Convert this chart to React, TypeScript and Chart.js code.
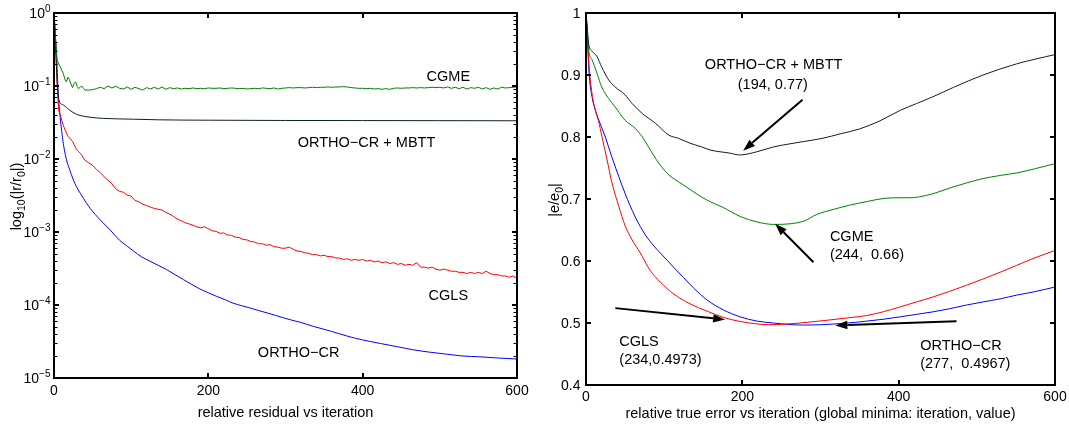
import React, { useEffect, useRef } from 'react';
import { Chart, registerables } from 'chart.js';

Chart.register(...registerables);

const FAMILY = '"Liberation Sans", Arial, Helvetica, sans-serif';
const fnt = (px: number) => `${px}px ${FAMILY}`;
const TICK_PX = 14;
const TEXT_PX = 14.5;
const SUB_PX = 10.5;

// ================= Left panel: relative residual (log scale) =================
const noisyIter = [
  0, 2, 4, 6, 8, 10, 12, 14, 16, 18, 20, 22, 24, 26, 28, 30, 32, 34, 36, 38,
  40, 45, 50, 55, 60, 65, 70, 75, 80, 85,
  90, 95, 100, 105, 110, 115, 120, 125, 130, 135,
  140, 145, 150, 155, 160, 165, 170, 175, 180, 185,
  190, 195, 200, 205, 210, 215, 220, 225, 230, 235,
  240, 245, 250, 255, 260, 265, 270, 275, 280, 285,
  290, 295, 300, 305, 310, 315, 320, 325, 330, 335,
  340, 345, 350, 355, 360, 365, 370, 375, 380, 385,
  390, 395, 400, 405, 410, 415, 420, 425, 430, 435,
  440, 445, 450, 455, 460, 465, 470, 475, 480, 485,
  490, 495, 500, 505, 510, 515, 520, 525, 530, 535,
  540, 545, 550, 555, 560, 565, 570, 575, 580, 585,
  590, 595, 600,
];

const cgmeResidual = [
  1.0, 0.45, 0.23, 0.2, 0.183, 0.165, 0.149, 0.125, 0.114, 0.132, 0.122, 0.107, 0.095, 0.108, 0.114, 0.099, 0.092, 0.097, 0.1, 0.093,
  0.088, 0.088, 0.089, 0.092, 0.096, 0.092, 0.1, 0.094, 0.099, 0.093,
  0.091, 0.097, 0.09, 0.096, 0.092, 0.088, 0.095, 0.091, 0.096, 0.091,
  0.097, 0.09, 0.095, 0.092, 0.094, 0.091, 0.093, 0.092, 0.094, 0.092,
  0.093, 0.092, 0.094, 0.093, 0.093, 0.094, 0.092, 0.093, 0.094, 0.093,
  0.092, 0.093, 0.091, 0.092, 0.093, 0.092, 0.094, 0.093, 0.092, 0.094,
  0.091, 0.093, 0.094, 0.095, 0.094, 0.095, 0.095, 0.094, 0.095, 0.096,
  0.095, 0.096, 0.096, 0.097, 0.096, 0.097, 0.097, 0.098, 0.097, 0.095,
  0.094, 0.093, 0.093, 0.092, 0.093, 0.091, 0.092, 0.09, 0.092, 0.09,
  0.093, 0.094, 0.093, 0.094, 0.094, 0.095, 0.094, 0.095, 0.094, 0.095,
  0.096, 0.095, 0.096, 0.094, 0.097, 0.093, 0.096, 0.092, 0.096, 0.091,
  0.095, 0.093, 0.096, 0.091, 0.095, 0.09, 0.094, 0.091, 0.096, 0.094,
  0.095, 0.096, 0.097,
];

const cglsResidual = [
  1.0, 0.4, 0.11, 0.047, 0.041, 0.034, 0.029, 0.0255, 0.0228, 0.0205, 0.0195, 0.0183, 0.0175, 0.0158, 0.0142, 0.0132, 0.0126, 0.012, 0.0113, 0.0104,
  0.0096, 0.0089, 0.0082, 0.0072, 0.0065, 0.0057, 0.0051, 0.0046, 0.0039, 0.0036,
  0.0035, 0.0032, 0.0031, 0.0027, 0.0026, 0.0024, 0.0023, 0.0022, 0.0021, 0.00205,
  0.002, 0.00185, 0.00176, 0.00163, 0.0015, 0.00143, 0.00134, 0.00129, 0.00124, 0.00118,
  0.00114, 0.00118, 0.00111, 0.00104, 0.00102, 0.00096, 0.00097, 0.00091, 0.0009, 0.00085,
  0.00084, 0.00079, 0.00078, 0.00074, 0.00073, 0.00069, 0.00069, 0.00066, 0.00067, 0.00063,
  0.00062, 0.0006, 0.0006, 0.00062, 0.00058, 0.00055, 0.00054, 0.00052, 0.00051, 0.00049,
  0.00049, 0.00047, 0.00048, 0.00046, 0.00046, 0.00044, 0.00044, 0.00042, 0.00043, 0.00041,
  0.00042, 0.00041, 0.00042, 0.0004, 0.00041, 0.00039, 0.0004, 0.00038, 0.00039, 0.00037,
  0.00038, 0.00036, 0.00037, 0.00035, 0.00036, 0.00035, 0.00038, 0.00033, 0.00033, 0.00032,
  0.00033, 0.00031, 0.0003, 0.00031, 0.0003, 0.00029, 0.00029, 0.00028, 0.00028, 0.00027,
  0.00028, 0.00027, 0.00028, 0.00027, 0.00029, 0.00027, 0.00026, 0.00026, 0.00025, 0.00025,
  0.00024, 0.00025, 0.00023,
];

const mbttResidualIter = [0, 2, 4, 6, 12, 20, 29, 36, 47, 64, 103, 137, 200, 300, 400, 500, 600];
const mbttResidual = [1.0, 0.35, 0.12, 0.066, 0.055, 0.047, 0.041, 0.039, 0.0373, 0.036, 0.0351, 0.0344, 0.034, 0.0337, 0.0336, 0.0335, 0.0334];

const orthoResidualIter = [
  0, 2, 3.5, 5.5, 8, 10, 12, 14, 16, 20,
  25, 29, 34, 38, 47, 60, 73, 79, 85, 94,
  103, 113, 124, 135, 146, 157, 168, 179, 189, 200,
  211, 222, 232, 243, 254, 265, 276, 287, 297, 308,
  319, 336, 358, 380, 401, 423, 445, 466, 488, 509,
  530, 552, 575, 600,
];
const orthoResidual = [
  1.0, 0.45, 0.23, 0.08, 0.037, 0.024, 0.0164, 0.0125, 0.0099, 0.0073,
  0.0052, 0.0042, 0.0034, 0.0029, 0.0021, 0.00146, 0.00106, 0.0009, 0.00077, 0.00065,
  0.00055, 0.00046, 0.0004, 0.00035, 0.000305, 0.00026, 0.000222, 0.00019, 0.000166, 0.000147,
  0.000131, 0.000118, 0.000106, 0.000098, 0.000091, 0.000084, 0.000078, 0.000072, 0.000067, 0.000062,
  0.000058, 0.000051, 0.000044, 0.0000375, 0.000033, 0.0000297, 0.0000268, 0.0000243, 0.0000225, 0.0000212,
  0.00002, 0.0000195, 0.0000188, 0.0000182,
];

const residualXTicks = [0, 200, 400, 600];
const residualXTickLabels = ['0', '200', '400', '600'];
const residualYTicks = [1e-5, 1e-4, 1e-3, 1e-2, 1e-1, 1];
const residualYExponents = ['\u22125', '\u22124', '\u22123', '\u22122', '\u22121', '0'];
const residualYMinor = [
  2e-5, 3e-5, 4e-5, 5e-5, 6e-5, 7e-5, 8e-5, 9e-5,
  2e-4, 3e-4, 4e-4, 5e-4, 6e-4, 7e-4, 8e-4, 9e-4,
  2e-3, 3e-3, 4e-3, 5e-3, 6e-3, 7e-3, 8e-3, 9e-3,
  2e-2, 3e-2, 4e-2, 5e-2, 6e-2, 7e-2, 8e-2, 9e-2,
  0.2, 0.3, 0.4, 0.5, 0.6, 0.7, 0.8, 0.9,
];

// ================= Right panel: relative true error =================
const mbttErrIter = [0, 2, 3.4, 8, 14, 20, 29, 37, 50, 59, 72, 89, 106, 118, 133, 148, 159, 184, 197, 218, 240, 261, 280, 303, 325, 350, 376, 402, 423, 444, 470, 508, 551, 600];
const mbttErr = [1.0, 0.97, 0.95, 0.938, 0.93, 0.913, 0.892, 0.881, 0.868, 0.854, 0.838, 0.822, 0.803, 0.798, 0.79, 0.784, 0.779, 0.774, 0.771, 0.776, 0.784, 0.789, 0.793, 0.798, 0.805, 0.813, 0.826, 0.843, 0.854, 0.865, 0.88, 0.9, 0.918, 0.933];

const cgmeErrIter = [0, 2, 3.4, 8, 14, 20, 29, 37, 50, 63, 72, 80, 93, 106, 123, 136, 148, 160, 176, 197, 219, 240, 261, 280, 295, 316, 337, 360, 381, 400, 415, 436, 450, 466, 487, 508, 530, 551, 575, 600];
const cgmeErr = [1.0, 0.965, 0.94, 0.924, 0.903, 0.881, 0.862, 0.849, 0.827, 0.814, 0.8, 0.784, 0.758, 0.739, 0.724, 0.713, 0.703, 0.695, 0.686, 0.672, 0.663, 0.659, 0.66, 0.665, 0.675, 0.683, 0.69, 0.696, 0.701, 0.702, 0.702, 0.706, 0.711, 0.718, 0.726, 0.733, 0.738, 0.742, 0.749, 0.757];

const cglsErrIter = [0, 2, 3.4, 7.7, 12, 16, 20.5, 27, 33, 42, 50, 59, 69, 82, 95, 112, 133, 155, 176, 197, 219, 234, 250, 270, 290, 316, 340, 359, 380, 402, 423, 444, 465, 487, 508, 530, 551, 572, 600];
const cglsErr = [1.0, 0.96, 0.924, 0.87, 0.843, 0.826, 0.8, 0.763, 0.727, 0.688, 0.657, 0.634, 0.614, 0.585, 0.566, 0.547, 0.531, 0.519, 0.509, 0.5025, 0.4985, 0.4973, 0.4978, 0.4995, 0.502, 0.5055, 0.509, 0.512, 0.518, 0.526, 0.534, 0.542, 0.551, 0.561, 0.571, 0.582, 0.593, 0.604, 0.617];

const orthoErrIter = [0, 2, 4.3, 7.7, 12, 18, 24.7, 33, 42, 50, 63, 76, 87, 95, 104, 112, 125, 138, 155, 176, 197, 219, 240, 261, 277, 300, 330, 359, 380, 402, 423, 444, 465, 487, 508, 530, 551, 572, 600];
const orthoErr = [1.0, 0.95, 0.897, 0.865, 0.843, 0.822, 0.8, 0.768, 0.736, 0.709, 0.671, 0.642, 0.624, 0.613, 0.601, 0.59, 0.573, 0.556, 0.537, 0.521, 0.51, 0.503, 0.5, 0.4975, 0.4967, 0.4972, 0.4995, 0.503, 0.506, 0.51, 0.514, 0.518, 0.523, 0.529, 0.534, 0.539, 0.545, 0.55, 0.558];

const errorXTicks = [0, 200, 400, 600];
const errorXTickLabels = ['0', '200', '400', '600'];
const errorYTicks = [0.4, 0.5, 0.6, 0.7, 0.8, 0.9, 1];
const errorYTickLabels = ['0.4', '0.5', '0.6', '0.7', '0.8', '0.9', '1'];

// ================= Annotations (data coordinates) =================
type Note = { text: string; x: number; y: number; align: 'left' | 'center' };
type Arrow = { x1: number; y1: number; x2: number; y2: number };

const residualNotes: Note[] = [
  { text: 'CGME', x: 511, y: 0.138, align: 'center' },
  { text: 'ORTHO\u2212CR + MBTT', x: 405, y: 0.0174, align: 'center' },
  { text: 'CGLS', x: 511, y: 0.000138, align: 'center' },
  { text: 'ORTHO\u2212CR', x: 317, y: 0.0000231, align: 'center' },
];

const errorNotes: Note[] = [
  { text: 'ORTHO\u2212CR + MBTT', x: 240, y: 0.918, align: 'center' },
  { text: '(194, 0.77)', x: 239, y: 0.886, align: 'center' },
  { text: 'CGME', x: 312, y: 0.641, align: 'left' },
  { text: '(244,  0.66)', x: 312, y: 0.612, align: 'left' },
  { text: 'CGLS', x: 42.6, y: 0.4705, align: 'left' },
  { text: '(234,0.4973)', x: 42.6, y: 0.4426, align: 'left' },
  { text: 'ORTHO\u2212CR', x: 427.5, y: 0.4656, align: 'left' },
  { text: '(277,  0.4967)', x: 427.5, y: 0.4361, align: 'left' },
];

const errorArrows: Arrow[] = [
  { x1: 277, y1: 0.86, x2: 201, y2: 0.778 },
  { x1: 291, y1: 0.598, x2: 242, y2: 0.66 },
  { x1: 37.5, y1: 0.524, x2: 178, y2: 0.5055 },
  { x1: 474, y1: 0.503, x2: 319, y2: 0.496 },
];

// ================= helpers =================
type Run = { t: string; size: number; dy: number };

function drawRuns(ctx: CanvasRenderingContext2D, runs: Run[], x: number, y: number, align: 'left' | 'right' | 'center') {
  let total = 0;
  const widths = runs.map((r) => {
    ctx.font = fnt(r.size);
    const w = ctx.measureText(r.t).width;
    total += w;
    return w;
  });
  let cx = align === 'left' ? x : align === 'right' ? x - total : x - total / 2;
  ctx.textAlign = 'left';
  ctx.textBaseline = 'alphabetic';
  runs.forEach((r, i) => {
    ctx.font = fnt(r.size);
    ctx.fillText(r.t, cx, y + r.dy);
    cx += widths[i];
  });
}

function drawArrow(ctx: CanvasRenderingContext2D, x1: number, y1: number, x2: number, y2: number) {
  const ang = Math.atan2(y2 - y1, x2 - x1);
  const L = 12;
  const W = 4.2;
  const bx = x2 - L * Math.cos(ang);
  const by = y2 - L * Math.sin(ang);
  ctx.lineWidth = 2;
  ctx.beginPath();
  ctx.moveTo(x1, y1);
  ctx.lineTo(bx, by);
  ctx.stroke();
  ctx.beginPath();
  ctx.moveTo(x2, y2);
  ctx.lineTo(bx + W * Math.sin(ang), by - W * Math.cos(ang));
  ctx.lineTo(bx - W * Math.sin(ang), by + W * Math.cos(ang));
  ctx.closePath();
  ctx.fill();
}

interface AxesSpec {
  xTicks: number[];
  xTickLabels: string[];
  xTickDy: number;
  yMajor: number[];
  yMinor: number[];
  yTickRuns: Run[][];
  yTickGap: number;
  xTitle: string;
  xTitleDy: number;
  yTitle: Run[];
  yTitleX: number;
  notes: Note[];
  arrows: Arrow[];
}

function axesPlugin(spec: AxesSpec) {
  return {
    id: 'matlabAxes',
    afterDraw(chart: any) {
      const ctx: CanvasRenderingContext2D = chart.ctx;
      const a = chart.chartArea;
      const xs = chart.scales.x;
      const ys = chart.scales.y;
      ctx.save();
      ctx.strokeStyle = '#000';
      ctx.fillStyle = '#000';
      ctx.lineCap = 'butt';

      // minor ticks
      ctx.lineWidth = 1;
      ctx.beginPath();
      for (const v of spec.yMinor) {
        const py = Math.round(ys.getPixelForValue(v)) + 0.5;
        ctx.moveTo(a.left, py);
        ctx.lineTo(a.left + 3.5, py);
        ctx.moveTo(a.right, py);
        ctx.lineTo(a.right - 3.5, py);
      }
      ctx.stroke();

      // major ticks
      ctx.lineWidth = 2;
      ctx.beginPath();
      for (const v of spec.xTicks) {
        const px = Math.round(xs.getPixelForValue(v));
        ctx.moveTo(px, a.bottom);
        ctx.lineTo(px, a.bottom - 5);
        ctx.moveTo(px, a.top);
        ctx.lineTo(px, a.top + 5);
      }
      for (const v of spec.yMajor) {
        const py = Math.round(ys.getPixelForValue(v));
        ctx.moveTo(a.left, py);
        ctx.lineTo(a.left + 5, py);
        ctx.moveTo(a.right, py);
        ctx.lineTo(a.right - 5, py);
      }
      ctx.stroke();
      ctx.strokeRect(a.left, a.top, a.right - a.left, a.bottom - a.top);

      // x tick labels
      spec.xTicks.forEach((v, i) => {
        const px = xs.getPixelForValue(v);
        drawRuns(ctx, [{ t: spec.xTickLabels[i], size: TICK_PX, dy: 0 }], px, a.bottom + spec.xTickDy, 'center');
      });
      // y tick labels
      spec.yMajor.forEach((v, i) => {
        const py = ys.getPixelForValue(v);
        drawRuns(ctx, spec.yTickRuns[i], a.left - spec.yTickGap, py + 5, 'right');
      });

      // x title
      drawRuns(ctx, [{ t: spec.xTitle, size: TEXT_PX, dy: 0 }], (a.left + a.right) / 2, a.bottom + spec.xTitleDy, 'center');

      // y title (rotated)
      ctx.save();
      ctx.translate(spec.yTitleX, (a.top + a.bottom) / 2 + 1);
      ctx.rotate(-Math.PI / 2);
      drawRuns(ctx, spec.yTitle, 0, 0, 'center');
      ctx.restore();

      // annotations
      for (const n of spec.notes) {
        const px = xs.getPixelForValue(n.x);
        const py = ys.getPixelForValue(n.y);
        drawRuns(ctx, [{ t: n.text, size: TEXT_PX, dy: 0 }], px, py + 5.2, n.align);
      }
      for (const ar of spec.arrows) {
        drawArrow(
          ctx,
          xs.getPixelForValue(ar.x1),
          ys.getPixelForValue(ar.y1),
          xs.getPixelForValue(ar.x2),
          ys.getPixelForValue(ar.y2)
        );
      }
      ctx.restore();
    },
  };
}

const pairs = (xs: number[], ys: number[]) => xs.map((x, i) => ({ x, y: ys[i] }));

const GREEN = 'rgb(0,128,0)';
const DARK = 'rgb(12,34,34)';
const RED = 'rgb(255,0,0)';
const BLUE = 'rgb(0,0,255)';

function lineSet(label: string, data: { x: number; y: number }[], color: string, smooth: boolean) {
  return {
    label,
    data,
    borderColor: color,
    backgroundColor: color,
    borderWidth: 1,
    pointRadius: 0,
    fill: false,
    tension: 0,
    cubicInterpolationMode: smooth ? ('monotone' as const) : ('default' as const),
  };
}

function residualConfig(): any {
  return {
    type: 'line',
    data: {
      datasets: [
        lineSet('CGME', pairs(noisyIter, cgmeResidual), GREEN, false),
        lineSet('ORTHO\u2212CR + MBTT', pairs(mbttResidualIter, mbttResidual), DARK, true),
        lineSet('CGLS', pairs(noisyIter, cglsResidual), RED, false),
        lineSet('ORTHO\u2212CR', pairs(orthoResidualIter, orthoResidual), BLUE, true),
      ],
    },
    options: {
      animation: false,
      responsive: false,
      devicePixelRatio: 1,
      layout: { padding: { left: 54, right: 23, top: 13, bottom: 47 } },
      plugins: { legend: { display: false }, tooltip: { enabled: false } },
      scales: {
        x: { type: 'linear', min: 0, max: 600, display: false },
        y: { type: 'logarithmic', min: 1e-5, max: 1, display: false },
      },
    },
    plugins: [
      axesPlugin({
        xTicks: residualXTicks,
        xTickLabels: residualXTickLabels,
        xTickDy: 16.7,
        yMajor: residualYTicks,
        yMinor: residualYMinor,
        yTickRuns: residualYExponents.map((e) => [
          { t: '10', size: TICK_PX, dy: 0 },
          { t: e, size: 10, dy: -6.5 },
        ]),
        yTickGap: 3.5,
        xTitle: 'relative residual vs iteration',
        xTitleDy: 39,
        yTitle: [
          { t: 'log', size: TEXT_PX, dy: 0 },
          { t: '10', size: SUB_PX, dy: 3.5 },
          { t: '(|r/r', size: TEXT_PX, dy: 0 },
          { t: '0', size: SUB_PX, dy: 3.5 },
          { t: '|)', size: TEXT_PX, dy: 0 },
        ],
        yTitleX: 21,
        notes: residualNotes,
        arrows: [],
      }),
    ],
  };
}

function errorConfig(): any {
  return {
    type: 'line',
    data: {
      datasets: [
        lineSet('ORTHO\u2212CR + MBTT', pairs(mbttErrIter, mbttErr), DARK, true),
        lineSet('CGME', pairs(cgmeErrIter, cgmeErr), GREEN, true),
        lineSet('CGLS', pairs(cglsErrIter, cglsErr), RED, true),
        lineSet('ORTHO\u2212CR', pairs(orthoErrIter, orthoErr), BLUE, true),
      ],
    },
    options: {
      animation: false,
      responsive: false,
      devicePixelRatio: 1,
      layout: { padding: { left: 46, right: 14, top: 13, bottom: 40 } },
      plugins: { legend: { display: false }, tooltip: { enabled: false } },
      scales: {
        x: { type: 'linear', min: 0, max: 600, display: false },
        y: { type: 'linear', min: 0.4, max: 1, display: false },
      },
    },
    plugins: [
      axesPlugin({
        xTicks: errorXTicks,
        xTickLabels: errorXTickLabels,
        xTickDy: 16.3,
        yMajor: errorYTicks,
        yMinor: [],
        yTickRuns: errorYTickLabels.map((s) => [{ t: s, size: TICK_PX, dy: 0 }]),
        yTickGap: 5.5,
        xTitle: 'relative true error vs iteration (global minima: iteration, value)',
        xTitleDy: 33,
        yTitle: [
          { t: '|e/e', size: TEXT_PX, dy: 0 },
          { t: '0', size: SUB_PX, dy: 3.5 },
          { t: '|', size: TEXT_PX, dy: 0 },
        ],
        yTitleX: 19,
        notes: errorNotes,
        arrows: errorArrows,
      }),
    ],
  };
}

export default function App() {
  const leftRef = useRef<HTMLCanvasElement>(null);
  const rightRef = useRef<HTMLCanvasElement>(null);

  useEffect(() => {
    const c1 = new Chart(leftRef.current as HTMLCanvasElement, residualConfig());
    const c2 = new Chart(rightRef.current as HTMLCanvasElement, errorConfig());
    return () => {
      c1.destroy();
      c2.destroy();
    };
  }, []);

  return (
    <div style={{ position: 'fixed', left: 0, top: 0, width: 1069, height: 425, background: '#fff' }}>
      <canvas
        ref={leftRef}
        width={540}
        height={425}
        style={{ position: 'absolute', left: 0, top: 0, width: 540, height: 425 }}
      />
      <canvas
        ref={rightRef}
        width={529}
        height={425}
        style={{ position: 'absolute', left: 540, top: 0, width: 529, height: 425 }}
      />
    </div>
  );
}
